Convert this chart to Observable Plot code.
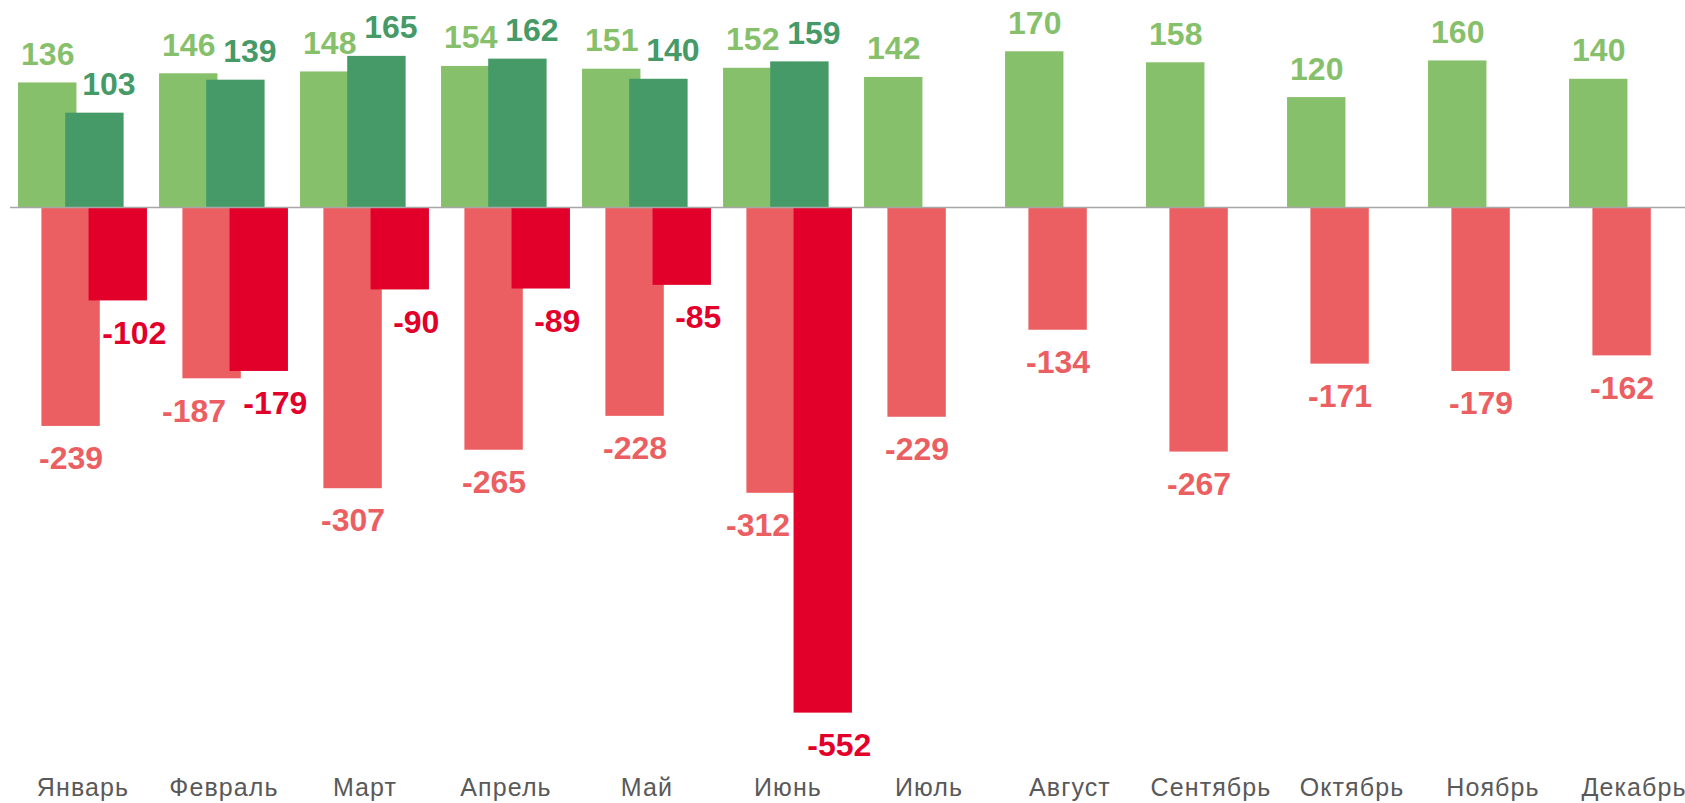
<!DOCTYPE html>
<html>
<head>
<meta charset="utf-8">
<script src="https://cdn.jsdelivr.net/npm/d3@7"></script>
<script src="https://cdn.jsdelivr.net/npm/@observablehq/plot@0.6"></script>
<style>
  html, body { margin: 0; padding: 0; background: #fff; overflow: hidden; }
  g[aria-label="x-axis tick label"] text { letter-spacing: 1.1px; }
</style>
</head>
<body>
<div id="chart"></div>
<script>
// ---- data ----
const months = ["Январь","Февраль","Март","Апрель","Май","Июнь","Июль","Август","Сентябрь","Октябрь","Ноябрь","Декабрь"];
const incomePrev = [136,146,148,154,151,152,142,170,158,120,160,140];
const incomeCurr = [103,139,165,162,140,159,null,null,null,null,null,null];
const expensePrev = [-239,-187,-307,-265,-228,-312,-229,-134,-267,-171,-179,-162];
const expenseCurr = [-102,-179,-90,-89,-85,-552,null,null,null,null,null,null];

// ---- layout ----
const W = 1685, H = 803;
const step = 141.3, barW = 58.7, x0 = 9.85;
const side = (step - barW) / 2;

const rows = (vals) => vals.map((v, i) => ({month: months[i], value: v, i})).filter(d => d.value != null);

const C = {
  lg: "#87C06B",
  dg: "#469A68",
  lr: "#EB5F62",
  dr: "#E2002B"
};

function bars(vals, off, fill) {
  return Plot.barY(rows(vals), {
    x: "month", y: "value", fill,
    insetLeft: side + off, insetRight: side - off
  });
}

const labelFont = {fontSize: 32, fontWeight: "bold"};

const expPrevRows = rows(expensePrev);
const crowded = (d) => expenseCurr[d.i] != null && expenseCurr[d.i] < d.value + 30;

const chart = Plot.plot({
  width: W,
  height: H,
  marginTop: 0,
  marginBottom: 40,
  marginLeft: 10,
  marginRight: 0,
  x: {type: "band", domain: months, range: [x0, x0 + 12 * step], padding: 0, label: null},
  y: {domain: [-607, 226], axis: null},
  style: {fontFamily: "'Liberation Sans', Arial, sans-serif", background: "#fff", overflow: "visible"},
  marks: [
    bars(incomePrev, -35.25, C.lg),
    bars(incomeCurr, 11.9, C.dg),
    bars(expensePrev, -11.9, C.lr),
    bars(expenseCurr, 35.25, C.dr),
    Plot.ruleY([0], {stroke: "#A6A6A6", strokeWidth: 1.5}),
    Plot.axisX({tickSize: 0, tickPadding: 15, fontSize: 25, fill: "#595959", label: null}),
    Plot.text(rows(incomePrev), {x: "month", y: "value", text: d => String(d.value),
      dx: -35.25, dy: -18, lineAnchor: "bottom", fill: C.lg, ...labelFont}),
    Plot.text(rows(incomeCurr), {x: "month", y: "value", text: d => String(d.value),
      dx: 11.9 + 14, dy: -18, lineAnchor: "bottom", fill: C.dg, ...labelFont}),
    Plot.text(expPrevRows.filter(d => !crowded(d)), {x: "month", y: "value", text: d => String(d.value),
      dx: -11.9, dy: 20, lineAnchor: "top", fill: C.lr, ...labelFont}),
    Plot.text(expPrevRows.filter(crowded), {x: "month", y: "value", text: d => String(d.value),
      dx: -11.9 - 18, dy: 20, lineAnchor: "top", fill: C.lr, ...labelFont}),
    Plot.text(rows(expenseCurr), {x: "month", y: "value", text: d => String(d.value),
      dx: 35.25 + 16, dy: 20, lineAnchor: "top", fill: C.dr, ...labelFont})
  ]
});

document.getElementById("chart").appendChild(chart);
</script>
</body>
</html>
